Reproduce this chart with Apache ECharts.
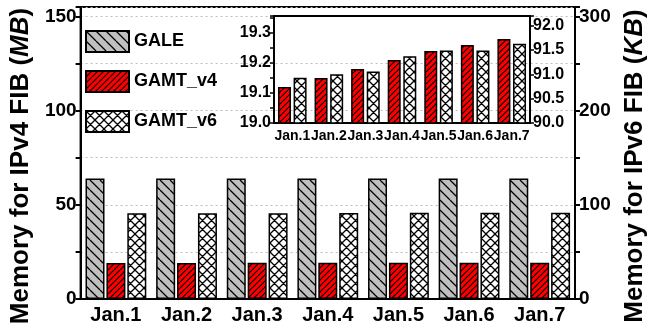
<!DOCTYPE html>
<html>
<head>
<meta charset="utf-8">
<script src="https://cdn.jsdelivr.net/npm/echarts@6/dist/echarts.min.js"></script>
<style>
  html, body { margin: 0; padding: 0; background: #fff; }
  #chart { width: 661px; height: 331px; }
</style>
</head>
<body>
<div id="chart"></div>
<script>
// Daily FIB memory, Jan.1 - Jan.7
const categories = ['Jan.1', 'Jan.2', 'Jan.3', 'Jan.4', 'Jan.5', 'Jan.6', 'Jan.7'];
const galeMB = [64, 64, 64, 64, 64, 64, 64];                              // IPv4, MB
const gamtV4MB = [19.12, 19.15, 19.18, 19.21, 19.24, 19.26, 19.28];       // IPv4, MB
const gamtV6KB = [90.93, 91.00, 91.06, 91.37, 91.49, 91.49, 91.63];       // IPv6, KB

const FONT = '"Liberation Sans", Arial, Helvetica, sans-serif';

// Hatch fills
function hatch(size, bg, kinds, lw) {
  const c = document.createElement('canvas');
  c.width = size; c.height = size;
  const g = c.getContext('2d');
  g.fillStyle = bg; g.fillRect(0, 0, size, size);
  g.strokeStyle = '#000'; g.lineWidth = lw;
  g.beginPath();
  for (const k of kinds) {
    for (let x0 = -size; x0 <= size; x0 += size) {
      if (k === 'back') { g.moveTo(x0, 0); g.lineTo(x0 + size, size); }
      else { g.moveTo(x0, size); g.lineTo(x0 + size, 0); }
    }
  }
  g.stroke();
  return { image: c, repeat: 'repeat' };
}
const galeFill = hatch(10, '#c0c0c0', ['back'], 1.3);
const v4Fill = hatch(6, '#ff0000', ['fwd'], 1.2);
const v6Fill = hatch(9, '#ffffff', ['back', 'fwd'], 1.3);

const isStep = (v, step) => Math.abs(Math.round(v / step) * step - v) < 1e-6;

const tickFont = { fontFamily: FONT, fontWeight: 'bold', color: '#000' };
const axisLineStyle = { show: true, lineStyle: { color: '#000', width: 2 } };
const titleRich = {
  t: { fontFamily: FONT, fontWeight: 'bold', fontSize: 26, color: '#000' },
  i: { fontFamily: FONT, fontWeight: 'bold', fontStyle: 'italic', fontSize: 26, color: '#000' }
};

const chart = echarts.init(document.getElementById('chart'), null, { renderer: 'canvas' });
chart.setOption({
  animation: false,
  backgroundColor: '#fff',
  legend: {
    data: ['GALE', 'GAMT_v4', 'GAMT_v6'],
    orient: 'vertical',
    left: 85, top: 30, padding: 0,
    icon: 'rect',
    itemWidth: 43, itemHeight: 21, itemGap: 17,
    textStyle: { fontFamily: FONT, fontWeight: 'bold', fontSize: 18, color: '#000' }
  },
  grid: [
    { left: 78, right: 86, top: 7, bottom: 32, show: true, borderColor: '#000', borderWidth: 2, backgroundColor: 'transparent' },
    { left: 274, right: 131, top: 16, bottom: 208, show: true, borderColor: '#000', borderWidth: 2, backgroundColor: 'transparent', z: 5 }
  ],
  xAxis: [
    {
      type: 'category', gridIndex: 0, data: categories,
      axisLine: axisLineStyle, axisTick: { show: false },
      axisLabel: Object.assign({ fontSize: 20, margin: 6, interval: 0 }, tickFont)
    },
    {
      type: 'category', gridIndex: 1, data: categories,
      axisLine: axisLineStyle, axisTick: { show: false },
      axisLabel: Object.assign({ fontSize: 14, margin: 6, interval: 0 }, tickFont)
    }
  ],
  yAxis: [
    {
      type: 'value', gridIndex: 0, position: 'left', min: 0, max: 155, interval: 25,
      axisLine: axisLineStyle,
      axisTick: { show: true, length: 5, lineStyle: { color: '#000', width: 2 } },
      axisLabel: Object.assign({ fontSize: 19, margin: 4, formatter: v => isStep(v, 50) ? String(v) : '' }, tickFont),
      splitLine: { show: true, lineStyle: { color: '#bdbdbd', type: [2, 3], width: 1 } },
      name: '{t|Memory for IPv4 FIB (}{i|MB}{t|)}',
      nameLocation: 'middle', nameRotate: 90, nameGap: 36,
      nameTextStyle: { rich: titleRich, padding: [0, 26, 0, 0] }
    },
    {
      type: 'value', gridIndex: 0, position: 'right', min: 0, max: 310, interval: 50,
      axisLine: axisLineStyle,
      axisTick: { show: true, length: 5, lineStyle: { color: '#000', width: 2 } },
      axisLabel: Object.assign({ fontSize: 19, margin: 4, formatter: v => isStep(v, 100) ? String(v) : '' }, tickFont),
      splitLine: { show: false },
      name: '{t|Memory for IPv6 FIB (}{i|KB}{t|)}',
      nameLocation: 'middle', nameRotate: 90, nameGap: 46,
      nameTextStyle: { rich: titleRich, padding: [0, 26, 0, 0] }
    },
    {
      type: 'value', gridIndex: 1, position: 'left', min: 19.0, max: 19.357, interval: 0.05,
      axisLine: axisLineStyle,
      axisTick: { show: true, length: 4, lineStyle: { color: '#000', width: 1.5 } },
      axisLabel: Object.assign({ fontSize: 16, margin: 3, formatter: v => isStep(v, 0.1) ? v.toFixed(1) : '' }, tickFont),
      splitLine: { show: false }
    },
    {
      type: 'value', gridIndex: 1, position: 'right', min: 90, max: 92.2, interval: 0.5,
      axisLine: axisLineStyle,
      axisTick: { show: true, length: 4, lineStyle: { color: '#000', width: 1.5 } },
      axisLabel: Object.assign({ fontSize: 16, margin: 3, formatter: v => isStep(v, 0.5) ? v.toFixed(1) : '' }, tickFont),
      splitLine: { show: false }
    }
  ],
  series: [
    {
      name: 'GALE', type: 'bar', xAxisIndex: 0, yAxisIndex: 0, data: galeMB,
      barWidth: 19, barGap: '10%',
      itemStyle: { color: galeFill, borderColor: '#000', borderWidth: 1.5 }
    },
    {
      name: 'GAMT_v4', type: 'bar', xAxisIndex: 0, yAxisIndex: 0, data: gamtV4MB,
      barWidth: 19, barGap: '10%',
      itemStyle: { color: v4Fill, borderColor: '#000', borderWidth: 1.5 }
    },
    {
      name: 'GAMT_v6', type: 'bar', xAxisIndex: 0, yAxisIndex: 1, data: gamtV6KB,
      barWidth: 19, barGap: '10%',
      itemStyle: { color: v6Fill, borderColor: '#000', borderWidth: 1.5 }
    },
    {
      name: 'GAMT_v4', type: 'bar', xAxisIndex: 1, yAxisIndex: 2, data: gamtV4MB,
      barWidth: 13, barGap: '20%', z: 6,
      itemStyle: { color: v4Fill, borderColor: '#000', borderWidth: 1.5 }
    },
    {
      name: 'GAMT_v6', type: 'bar', xAxisIndex: 1, yAxisIndex: 3, data: gamtV6KB,
      barWidth: 13, barGap: '20%', z: 6,
      itemStyle: { color: v6Fill, borderColor: '#000', borderWidth: 1.5 }
    }
  ]
});
</script>
</body>
</html>
